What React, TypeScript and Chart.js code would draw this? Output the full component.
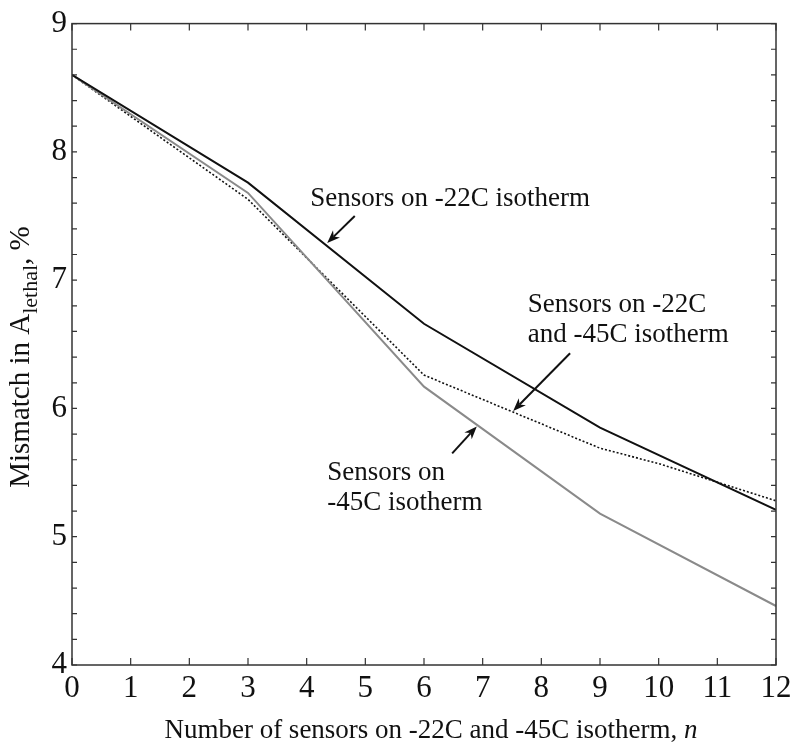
import React, { useEffect, useRef } from "react";
import { Chart, registerables } from "chart.js";

Chart.register(...registerables);

const n22 = [0, 3, 6, 9, 12];
const mismatch22 = [8.6, 7.76, 6.66, 5.85, 5.21];
const n45 = [0, 3, 6, 9, 12];
const mismatch45 = [8.6, 7.68, 6.17, 5.18, 4.46];
const nBoth = [0, 3, 6, 9, 10, 12];
const mismatchBoth = [8.6, 7.63, 6.26, 5.69, 5.57, 5.28];

const xTickValues = [0, 1, 2, 3, 4, 5, 6, 7, 8, 9, 10, 11, 12];
const yTickValues = [4, 5, 6, 7, 8, 9];

// annotation texts and anchor points in data units
const labelTexts = [
  ["Sensors on -22C isotherm"],
  ["Sensors on -22C", "and -45C isotherm"],
  ["Sensors on", "-45C isotherm"],
];
const labelX = [4.06, 7.77, 4.35];
const labelY = [[7.63], [6.81, 6.57], [5.5, 5.26]];
const arrowTailX = [4.82, 8.49, 6.48];
const arrowTailY = [7.5, 6.43, 5.65];
const arrowHeadX = [4.35, 7.52, 6.9];
const arrowHeadY = [7.29, 5.98, 5.86];

const SERIF = '"Liberation Serif", "Times New Roman", serif';

const framePlugin = {
  id: "frame",
  afterDraw(chart: any) {
    const ctx = chart.ctx as CanvasRenderingContext2D;
    const { left, right, top, bottom } = chart.chartArea;
    const xs = chart.scales.x;
    const ys = chart.scales.y;
    ctx.save();
    ctx.strokeStyle = "#333";
    ctx.lineWidth = 1.5;
    ctx.strokeRect(left, top, right - left, bottom - top);
    // inward ticks
    ctx.lineWidth = 1.2;
    ctx.beginPath();
    for (const v of xTickValues) {
      const px = xs.getPixelForValue(v);
      ctx.moveTo(px, bottom);
      ctx.lineTo(px, bottom - 7);
      ctx.moveTo(px, top);
      ctx.lineTo(px, top + 7);
    }
    for (let i = 0; i <= 25; i++) {
      const v = 4 + i * 0.2;
      const py = ys.getPixelForValue(v);
      ctx.moveTo(left, py);
      ctx.lineTo(left + 5, py);
      ctx.moveTo(right, py);
      ctx.lineTo(right - 5, py);
    }
    ctx.stroke();

    // annotations
    ctx.fillStyle = "#111";
    ctx.font = `27px ${SERIF}`;
    ctx.textAlign = "left";
    ctx.textBaseline = "middle";
    labelTexts.forEach((lines, i) => {
      lines.forEach((t, j) => {
        ctx.fillText(t, xs.getPixelForValue(labelX[i]), ys.getPixelForValue(labelY[i][j]));
      });
      const tx = xs.getPixelForValue(arrowTailX[i]);
      const ty = ys.getPixelForValue(arrowTailY[i]);
      const hx = xs.getPixelForValue(arrowHeadX[i]);
      const hy = ys.getPixelForValue(arrowHeadY[i]);
      const ang = Math.atan2(hy - ty, hx - tx);
      const hl = 13;
      const hw = 5;
      ctx.strokeStyle = "#111";
      ctx.lineWidth = 2;
      ctx.beginPath();
      ctx.moveTo(tx, ty);
      ctx.lineTo(hx - hl * 0.7 * Math.cos(ang), hy - hl * 0.7 * Math.sin(ang));
      ctx.stroke();
      ctx.beginPath();
      ctx.moveTo(hx, hy);
      ctx.lineTo(hx - hl * Math.cos(ang) + hw * Math.sin(ang), hy - hl * Math.sin(ang) - hw * Math.cos(ang));
      ctx.lineTo(hx - hl * 0.7 * Math.cos(ang), hy - hl * 0.7 * Math.sin(ang));
      ctx.lineTo(hx - hl * Math.cos(ang) - hw * Math.sin(ang), hy - hl * Math.sin(ang) + hw * Math.cos(ang));
      ctx.closePath();
      ctx.fill();
    });

    // x title
    ctx.textBaseline = "alphabetic";
    const xt1 = "Number of sensors on -22C and -45C isotherm, ";
    const xt2 = "n";
    ctx.font = `27px ${SERIF}`;
    const w1 = ctx.measureText(xt1).width;
    ctx.font = `italic 27px ${SERIF}`;
    const w2 = ctx.measureText(xt2).width;
    const cx = 431;
    const sx = cx - (w1 + w2) / 2;
    ctx.font = `27px ${SERIF}`;
    ctx.fillText(xt1, sx, 738);
    ctx.font = `italic 27px ${SERIF}`;
    ctx.fillText(xt2, sx + w1, 738);

    // y title (rotated) with subscript
    ctx.save();
    ctx.translate(29, 357);
    ctx.rotate(-Math.PI / 2);
    const p1 = "Mismatch in A";
    const p2 = "lethal";
    const p3 = ", %";
    ctx.font = `29px ${SERIF}`;
    const a1 = ctx.measureText(p1).width;
    const a3 = ctx.measureText(p3).width;
    ctx.font = `22px ${SERIF}`;
    const a2 = ctx.measureText(p2).width;
    const px0 = -(a1 + a2 + a3) / 2;
    ctx.font = `29px ${SERIF}`;
    ctx.fillText(p1, px0, 0);
    ctx.font = `22px ${SERIF}`;
    ctx.fillText(p2, px0 + a1, 8);
    ctx.font = `29px ${SERIF}`;
    ctx.fillText(p3, px0 + a1 + a2, 0);
    ctx.restore();

    ctx.restore();
  },
};

export default function App() {
  const ref = useRef<HTMLCanvasElement | null>(null);
  useEffect(() => {
    if (!ref.current) return;
    const chart = new Chart(ref.current, {
      type: "line",
      data: {
        datasets: [
          {
            label: "Sensors on -22C isotherm",
            data: n22.map((x, i) => ({ x, y: mismatch22[i] })),
            borderColor: "#111",
            borderWidth: 2,
            pointRadius: 0,
            tension: 0,
          },
          {
            label: "Sensors on -45C isotherm",
            data: n45.map((x, i) => ({ x, y: mismatch45[i] })),
            borderColor: "#8a8a8a",
            borderWidth: 2,
            pointRadius: 0,
            tension: 0,
          },
          {
            label: "Sensors on -22C and -45C isotherm",
            data: nBoth.map((x, i) => ({ x, y: mismatchBoth[i] })),
            borderColor: "#111",
            borderWidth: 1.6,
            borderDash: [2, 2],
            pointRadius: 0,
            tension: 0,
          },
        ],
      },
      options: {
        responsive: false,
        animation: false,
        layout: { padding: { left: 0, top: 20, right: 24, bottom: 0 } },
        plugins: { legend: { display: false }, tooltip: { enabled: false } },
        scales: {
          x: {
            type: "linear",
            min: 0,
            max: 12,
            afterFit: (s: any) => {
              s.height = 87;
            },
            afterBuildTicks: (s: any) => {
              s.ticks = xTickValues.map((v) => ({ value: v }));
            },
            grid: { display: false, drawTicks: false },
            border: { display: false },
            ticks: {
              padding: 5,
              color: "#111",
              font: { family: SERIF, size: 31 },
            },
          },
          y: {
            type: "linear",
            min: 4,
            max: 9,
            afterFit: (s: any) => {
              s.width = 72;
            },
            afterBuildTicks: (s: any) => {
              s.ticks = yTickValues.map((v) => ({ value: v }));
            },
            grid: { display: false, drawTicks: false },
            border: { display: false },
            ticks: {
              padding: 5,
              color: "#111",
              font: { family: SERIF, size: 31 },
            },
          },
        },
      },
      plugins: [framePlugin],
    } as any);
    return () => chart.destroy();
  }, []);
  return (
    <div style={{ position: "fixed", left: 0, top: 0, width: 800, height: 752, background: "#fff" }}>
      <canvas ref={ref} width={800} height={752} style={{ width: 800, height: 752 }} />
    </div>
  );
}
